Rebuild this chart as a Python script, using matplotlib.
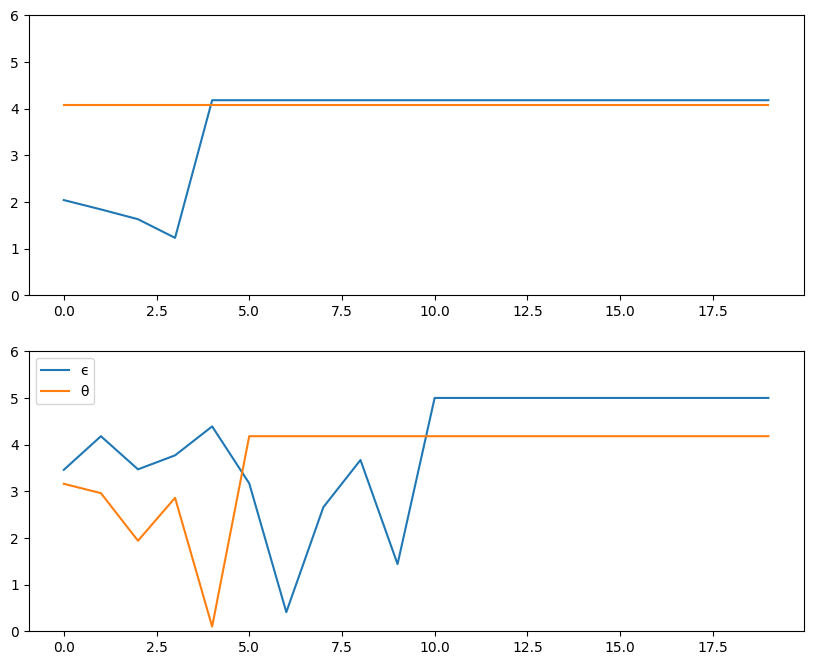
import matplotlib.pyplot as plt

# Data
x = list(range(20))

top_eps = [2.04, 1.84, 1.63, 1.23] + [4.18] * 16
top_theta = [4.08] * 20

bottom_eps = [3.46, 4.18, 3.47, 3.77, 4.39, 3.17, 0.41, 2.66, 3.67, 1.44] + [5.0] * 10
bottom_theta = [3.16, 2.96, 1.94, 2.86, 0.1] + [4.18] * 15

fig, (ax1, ax2) = plt.subplots(2, 1, figsize=(10, 8))

# Top
ax1.plot(x, top_eps, label="ϵ")
ax1.plot(x, top_theta, label="θ")
ax1.set_ylim(0, 6)

# Bottom
ax2.plot(x, bottom_eps, label="ϵ")
ax2.plot(x, bottom_theta, label="θ")
ax2.set_ylim(0, 6)
ax2.legend(loc="upper left")

plt.savefig("out.png", dpi=100, bbox_inches="tight")
